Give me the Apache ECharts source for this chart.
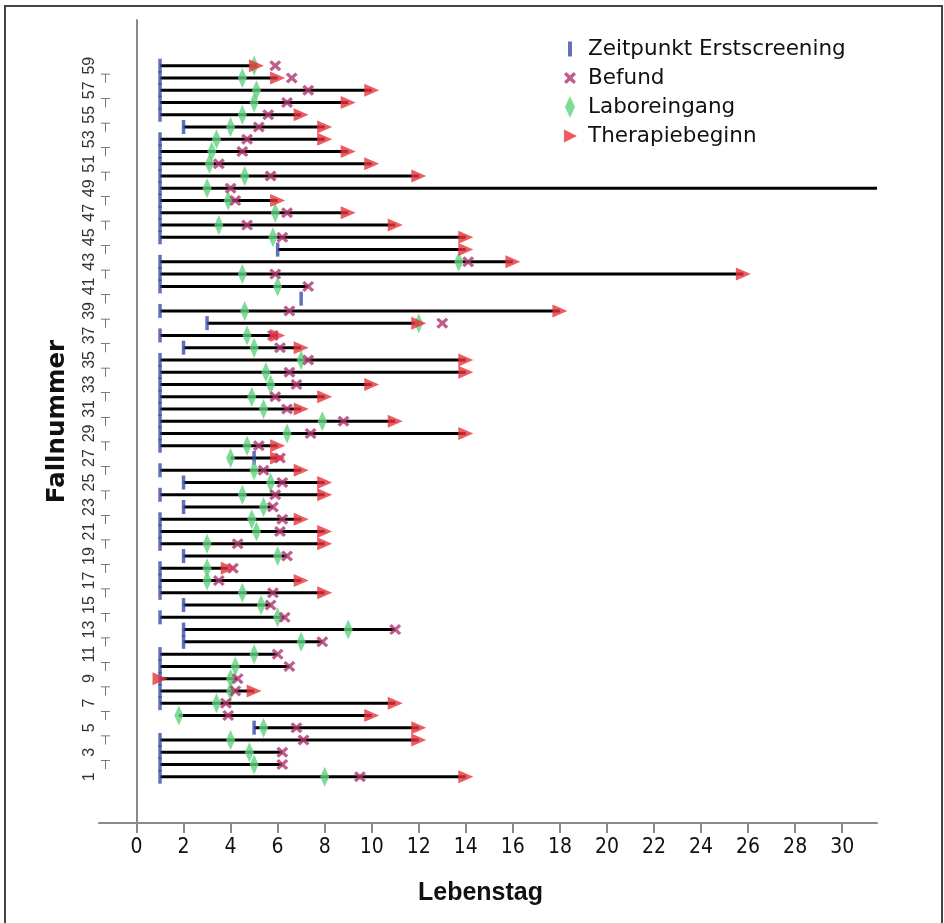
<!DOCTYPE html>
<html><head><meta charset="utf-8">
<script src="https://cdn.jsdelivr.net/npm/echarts@6/dist/echarts.min.js"></script>
<style>html,body{margin:0;padding:0;background:#fff}#c{width:944px;height:923px}</style>
</head><body><div id="c"></div>
<script>
// Fallnummer (case number) for each row, bottom to top
const fallnummer = [1,2,3,4,5,6,7,8,9,10,11,12,13,14,15,16,17,18,19,20,21,22,23,24,25,26,27,28,29,30,
  31,32,33,34,35,36,37,38,39,40,41,42,43,44,45,46,47,48,49,50,51,52,53,54,55,56,57,58,59];
// Lebenstag values per case (null = not recorded)
const erstscreening = [1,1,1,1,5,null,1,1,1,1,1,2,2,1,2,1,1,1,2,1,1,1,2,1,2,1,5,1,1,1,
  1,1,1,1,1,2,1,3,1,7,1,1,1,6,1,1,1,1,1,1,1,1,1,2,1,1,1,1,1];
const befund = [9.5,6.2,6.2,7.1,6.8,3.9,3.8,4.2,4.3,6.5,6,7.9,11,6.3,5.7,5.8,3.5,4.1,6.4,4.3,6.1,6.2,5.8,5.9,6.2,5.4,6.1,5.2,7.4,8.8,
  6.4,5.9,6.8,6.5,7.3,6.1,5.8,13,6.5,null,7.3,5.9,14.1,null,6.2,4.7,6.4,4.2,4,5.7,3.5,4.5,4.7,5.2,5.6,6.4,7.3,6.6,5.9];
const laboreingang = [8,5,4.8,4,5.4,1.8,3.4,4,4,4.2,5,7,9,6,5.3,4.5,3,3,6,3,5.1,4.9,5.4,4.5,5.7,5,4,4.7,6.4,7.9,
  5.4,4.9,5.7,5.5,7,5,4.7,12,4.6,null,6,4.5,13.7,null,5.8,3.5,5.9,3.9,3,4.6,3.1,3.2,3.4,4,4.5,5,5.1,4.5,5];
const therapiebeginn = [14,null,null,12,12,10,11,5,1,null,null,null,null,null,null,8,7,3.9,null,8,8,7,null,8,8,7,6,6,14,11,
  7,8,10,14,14,7,6,12,18,null,null,25.8,16,14,14,11,9,6,40,12,10,9,8,8,7,9,10,6,5.1];
// axis tick labels
const xTickValues = [0,2,4,6,8,10,12,14,16,18,20,22,24,26,28,30];
const yTickValues = [1,3,5,7,9,11,13,15,17,19,21,23,25,27,29,31,33,35,37,39,41,43,45,47,49,51,53,55,57,59];
const yMinorValues = [2,4,6,8,10,12,14,16,18,20,22,24,26,28,30,32,34,36,38,40,42,44,46,48,50,52,54,56,58];

function pts(arr){ const out=[]; arr.forEach((v,i)=>{ if(v!=null) out.push([v,fallnummer[i]]); }); return out; }
const spans = fallnummer.map((c,i)=>{
  const vals=[erstscreening[i],befund[i],laboreingang[i],therapiebeginn[i]].filter(v=>v!=null);
  const from=Math.min(...vals);
  const s = erstscreening[i]!=null?erstscreening[i]:from;
  const t = therapiebeginn[i];
  const to = (t!=null && t>s) ? t : Math.max(...vals);
  return [from,to,c];
});

const C_BLUE='#3b4ea8', C_PURPLE='#b0356f', C_GREEN='#5fd27e', C_RED='#e8323c';
const FONT="'Liberation Sans', Arial, sans-serif";
const WIDE="'DejaVu Sans', Verdana, sans-serif";
const NARROW="'Liberation Sans Narrow','DejaVu Sans Condensed','Liberation Sans',sans-serif";

const SYM_X='path://M2,0L5,3L8,0L10,2L7,5L10,8L8,10L5,7L2,10L0,8L3,5L0,2Z';
const SYM_TRI='path://M0,0L12,6L0,12Z';
// legend icons: a 16x22 frame (two move-to points) so each icon keeps its own size
const LEG_BAR='path://M0,0 M16,22 M6,3.5h4v15h-4z';
const LEG_X='path://M0,0 M16,22 M4.4,5L8,8.6L11.6,5L14,7.4L10.4,11L14,14.6L11.6,17L8,13.4L4.4,17L2,14.6L5.6,11L2,7.4Z';
const LEG_DIA='path://M0,0 M16,22 M8,0L13,11L8,22L3,11Z';
const LEG_TRI='path://M0,0 M16,22 M2,4.5L15,11L2,17.5Z';

const chart = echarts.init(document.getElementById('c'), null, {renderer:'canvas'});
chart.setOption({
  animation:false,
  backgroundColor:'#fff',
  grid:{left:99, right:67, top:20, bottom:100},
  xAxis:{type:'value', min:-1.594, max:31.48,
    axisLine:{onZero:false, lineStyle:{color:'#8a8a8a', width:2}},
    axisTick:{show:true, length:10, lineStyle:{color:'#8a8a8a', width:2}, customValues:xTickValues},
    axisLabel:{customValues:xTickValues, color:'#111', fontFamily:NARROW, fontSize:21, margin:14},
    splitLine:{show:false},
    name:'Lebenstag', nameLocation:'middle', nameGap:58,
    nameTextStyle:{fontFamily:FONT, fontWeight:'bold', fontSize:25, color:'#111', padding:[0,15,0,0]}
  },
  yAxis:[{type:'value', min:-2.776, max:62.73,
    axisLine:{show:true, onZero:true, lineStyle:{color:'#8a8a8a', width:2}},
    axisTick:{show:false},
    axisLabel:{customValues:yTickValues, rotate:90, color:'#333', fontFamily:FONT, fontSize:16, margin:1},
    splitLine:{show:false},
    name:'Fallnummer', nameLocation:'middle', nameGap:29, nameRotate:90,
    nameTextStyle:{fontFamily:WIDE, fontWeight:'bold', fontSize:24.5, color:'#111'}
  },{type:'value', min:-2.776, max:62.73, position:'left',
    axisLine:{show:false, onZero:false}, axisTick:{show:false}, splitLine:{show:false},
    axisLabel:{customValues:yMinorValues, rotate:90, color:'#555', fontFamily:WIDE, fontSize:13, margin:-14, formatter:()=> '\u22A3'}
  }],
  legend:{orient:'vertical', left:557, top:33, itemWidth:26, itemHeight:22, itemGap:7, symbolKeepAspect:true,
    textStyle:{fontFamily:WIDE, fontSize:21.5, color:'#111', lineHeight:22},
    data:[{name:'Zeitpunkt Erstscreening', icon:LEG_BAR},{name:'Befund', icon:LEG_X},
          {name:'Laboreingang', icon:LEG_DIA},{name:'Therapiebeginn', icon:LEG_TRI}]},
  graphic:[
    {type:'rect', shape:{x:5,y:6,width:937,height:930}, style:{fill:'none', stroke:'#444', lineWidth:2}, silent:true}
  ],
  series:[
    {type:'custom', name:'Verlauf', clip:true, z:1, silent:true,
      data:spans, encode:{x:[0,1], y:2},
      renderItem:(params, api)=>{
        const a=api.coord([api.value(0), api.value(2)]);
        const b=api.coord([api.value(1), api.value(2)]);
        return {type:'line', shape:{x1:a[0],y1:a[1],x2:b[0],y2:b[1]}, style:{stroke:'#000', lineWidth:3}};
      }},
    {type:'scatter', name:'Zeitpunkt Erstscreening', z:2, data:pts(erstscreening),
      symbol:'rect', symbolSize:[3.5,14], itemStyle:{color:C_BLUE}},
    {type:'scatter', name:'Laboreingang', z:3, data:pts(laboreingang),
      symbol:'diamond', symbolSize:[9,20], itemStyle:{color:C_GREEN}},
    {type:'scatter', name:'Befund', z:4, data:pts(befund),
      symbol:SYM_X, symbolSize:[12,11], itemStyle:{color:C_PURPLE}},
    {type:'scatter', name:'Therapiebeginn', z:5, data:pts(therapiebeginn),
      symbol:SYM_TRI, symbolSize:[15,13], itemStyle:{color:C_RED}}
  ]
});
</script></body></html>
